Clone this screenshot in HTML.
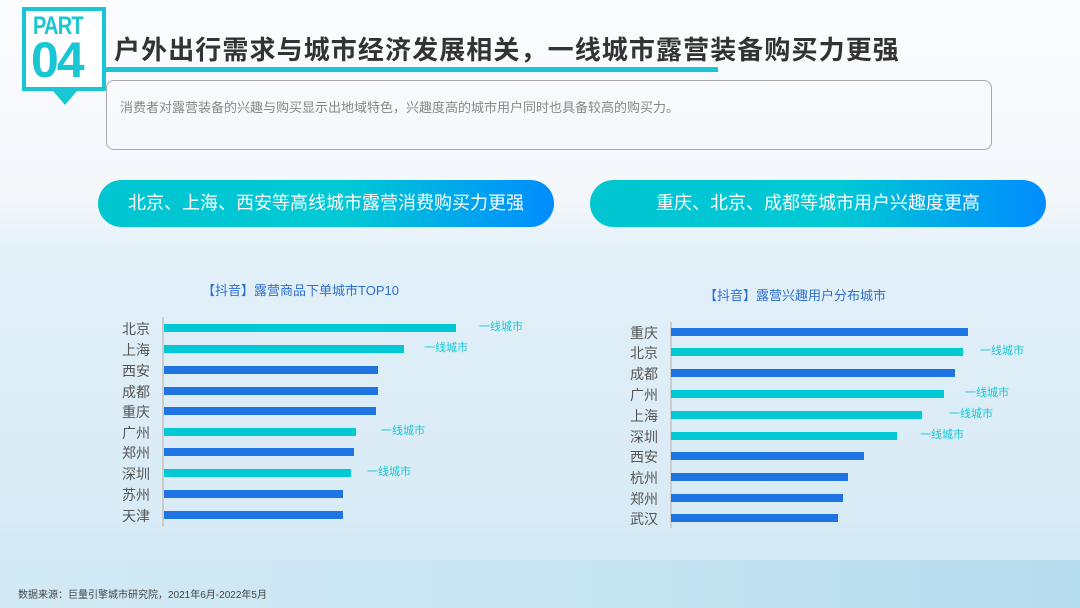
<!DOCTYPE html>
<html><head><meta charset="utf-8"><style>
*{margin:0;padding:0;box-sizing:border-box}
body{width:1080px;height:608px;overflow:hidden;position:relative;font-family:"Liberation Sans","Noto Sans CJK SC",sans-serif;
background:linear-gradient(180deg,#fbfcfe 0%,#f3f7fb 33%,#e2f0f8 42%,#d8ebf6 85%,#d0e8f3 100%)}
.a{position:absolute}
.bar{position:absolute;height:8px}
.c{background:#00c8d4}.b{background:#1e74e2}
.lab{position:absolute;font-size:14px;color:#555;line-height:16px}
.yx{position:absolute;font-size:11px;color:#19c6d3;line-height:12px}
.pill{position:absolute;height:47px;border-radius:24px;color:#fff;font-size:18px;text-align:center;line-height:47px;
background:linear-gradient(90deg,#00c6d2 0%,#00c8d4 55%,#008cff 100%)}
</style></head><body>
<div class="a" style="left:0;top:560px;width:1080px;height:48px;background:linear-gradient(90deg,#d3eaf5,#c4e3f1 60%,#b5dcee)"></div>
<div class="a" style="left:22px;top:7px;width:84px;height:84px;border:4px solid #19c6d3;background:#fff"></div>
<div class="a" style="left:53px;top:91px;width:0;height:0;border-left:12px solid transparent;border-right:12px solid transparent;border-top:14px solid #19c6d3"></div>
<div class="a" style="left:33px;top:12px;font-size:25px;font-weight:bold;color:#19c6d3;letter-spacing:-1px;transform:scaleX(0.8);transform-origin:left">PART</div>
<div class="a" style="left:31px;top:35px;font-size:50px;font-weight:bold;color:#19c6d3;line-height:50px;letter-spacing:-2px">04</div>
<div class="a" style="left:114px;top:30px;font-size:26px;font-weight:bold;color:#333;letter-spacing:1.1px">户外出行需求与城市经济发展相关，一线城市露营装备购买力更强</div>
<div class="a" style="left:104px;top:67px;width:614px;height:5px;background:#19c6d3"></div>
<div class="a" style="left:106px;top:80px;width:886px;height:70px;border:1.5px solid #a8a8a8;border-radius:8px"></div>
<div class="a" style="left:120px;top:97px;font-size:13px;color:#888">消费者对露营装备的兴趣与购买显示出地域特色，兴趣度高的城市用户同时也具备较高的购买力。</div>
<div class="pill" style="left:98px;top:180px;width:456px">北京、上海、西安等高线城市露营消费购买力更强</div>
<div class="pill" style="left:590px;top:180px;width:456px">重庆、北京、成都等城市用户兴趣度更高</div>
<div class="a" style="left:202px;top:280px;font-size:13px;color:#2f6fd0">【抖音】露营商品下单城市TOP10</div>
<div class="a" style="left:704px;top:285px;font-size:13px;color:#2f6fd0">【抖音】露营兴趣用户分布城市</div>
<div class="a" style="left:162px;top:317px;width:1.5px;height:210px;background:#ccc"></div>
<div class="a" style="left:670px;top:322px;width:1.5px;height:206px;background:#ccc"></div>
<script>
function draw(x0,labx,rows){rows.forEach(r=>{let [n,y,e,c,t]=r;
document.write(`<div class="lab" style="left:${labx}px;top:${y-7}px">${n}</div><div class="bar ${c}" style="left:${x0}px;top:${y-4}px;width:${e-x0}px"></div>`+(t?`<div class="yx" style="left:${t}px;top:${y-7}px">一线城市</div>`:''));});}
draw(164,122,[["北京",328,456,"c",479],["上海",349,404,"c",424],["西安",370,378,"b"],["成都",391,378,"b"],["重庆",411,376,"b"],["广州",432,356,"c",381],["郑州",452,354,"b"],["深圳",473,351,"c",367],["苏州",494,343,"b"],["天津",515,343,"b"]]);
draw(671,630,[["重庆",332,968,"b"],["北京",352,963,"c",980],["成都",373,955,"b"],["广州",394,944,"c",965],["上海",415,922,"c",949],["深圳",436,897,"c",920],["西安",456,864,"b"],["杭州",477,848,"b"],["郑州",498,843,"b"],["武汉",518,838,"b"]]);
</script>
<div class="a" style="left:18px;top:586px;font-size:10px;color:#444">数据来源：巨量引擎城市研究院，2021年6月-2022年5月</div>
</body></html>
